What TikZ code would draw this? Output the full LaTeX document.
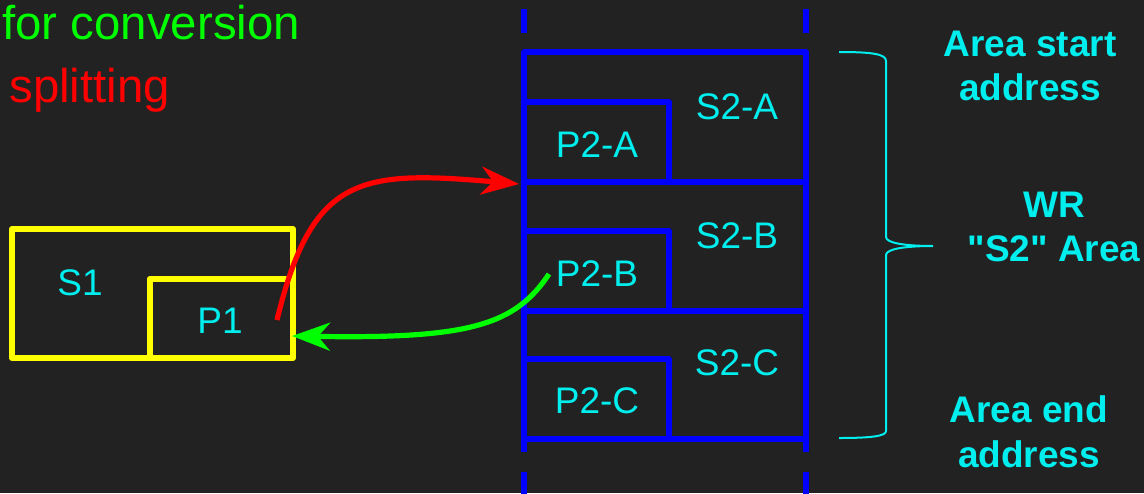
\documentclass[tikz,border=0pt]{standalone}
\usepackage{fontspec}
\setmainfont{Liberation Sans}[Ligatures=TeXOff]
\usetikzlibrary{arrows.meta}
\definecolor{bg}{RGB}{34,34,34}
\definecolor{tcyan}{RGB}{0,238,238}
\definecolor{bblue}{RGB}{0,0,255}
\definecolor{yel}{RGB}{255,255,0}
\definecolor{grn}{RGB}{0,255,0}
\definecolor{rd}{RGB}{255,0,0}
\begin{document}
\begin{tikzpicture}[x=0.5pt,y=-0.5pt,
  bluebox/.style={draw=bblue,line width=2.8pt,line join=round},
  bluedash/.style={draw=bblue,line width=2.8pt},
  yelbox/.style={draw=yel,line width=3pt,line join=round},
  boxlabel/.style={text=tcyan,font=\fontsize{18.5pt}{22pt}\selectfont,anchor=base,inner sep=0pt},
  sidelabel/.style={text=tcyan,font=\fontsize{18.5pt}{22pt}\selectfont\bfseries,anchor=base,inner sep=0pt},
  toplabel/.style={font=\fontsize{23.7pt}{28pt}\selectfont,anchor=base west,inner sep=0pt},
  conn/.style={line width=2.6pt,-{Stealth[length=19pt,width=14pt,inset=6pt]}},
  brace/.style={draw=tcyan,line width=1pt}]
\fill[bg] (0,0) rectangle (1144,493);
\useasboundingbox (0,0) rectangle (1144,493);
% top-left labels
\node[toplabel,text=grn] (conv) at (2,39) {for conversion};
\node[toplabel,text=rd] (split) at (9,102) {splitting};
% yellow boxes
\draw[yelbox] (12,229) rectangle (293,358);
\draw[yelbox] (149.5,358) -- (149.5,279) -- (293,279);
\node[boxlabel] (S1) at (80,295) {S1};
\node[boxlabel] (P1) at (220,333) {P1};
% blue dashes
\draw[bluedash] (524,9) -- (524,33);
\draw[bluedash] (806,9) -- (806,33);
\draw[bluedash] (524,439) -- (524,452);
\draw[bluedash] (806,439) -- (806,452);
\draw[bluedash] (524,472) -- (524,500);
\draw[bluedash] (806,472) -- (806,500);
% blue sections
\draw[bluebox] (524,52) rectangle (806,182);
\draw[bluebox] (524,182) rectangle (806,311);
\draw[bluebox] (524,311) rectangle (806,439);
\draw[bluebox] (524,102) -- (669,102) -- (669,182);
\draw[bluebox] (524,231) -- (669,231) -- (669,311);
\draw[bluebox] (524,359) -- (669,359) -- (669,439);
\node[boxlabel] (S2A) at (737,119) {S2-A};
\node[boxlabel] (P2A) at (597,157) {P2-A};
\node[boxlabel] (S2B) at (737,248) {S2-B};
\node[boxlabel] (P2B) at (597,286) {P2-B};
\node[boxlabel] (S2C) at (737,375) {S2-C};
\node[boxlabel] (P2C) at (597,413) {P2-C};
% brace
\draw[brace] (839,52) .. controls (872,52) and (886,54) .. (886,61) -- (886,237)
  .. controls (886,243) and (905,246) .. (933,246)
  .. controls (905,246) and (886,249) .. (886,255) -- (886,431)
  .. controls (886,436) and (872,438) .. (839,438);
% right labels
\node[sidelabel] (st1) at (1030,56) {Area start};
\node[sidelabel] (st2) at (1030,100) {address};
\node[sidelabel] (wr1) at (1054,217) {WR};
\node[sidelabel] (wr2) at (1054,261) {"S2" Area};
\node[sidelabel] (en1) at (1029,422) {Area end};
\node[sidelabel] (en2) at (1029,467) {address};
% connectors
\coordinate (rs) at (277,320);
\coordinate (re) at (519,184);
\coordinate (gs) at (549,274);
\coordinate (ge) at (292,336);
\draw[conn,draw=rd] (rs) .. controls (312,175) and (360,170) .. (re);
\draw[conn,draw=grn] (gs) .. controls (515,325) and (470,339) .. (ge);
\end{tikzpicture}
\end{document}
